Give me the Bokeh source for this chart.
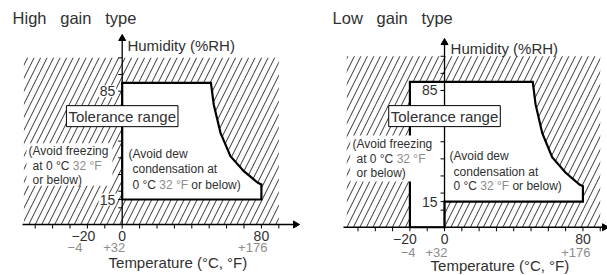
import math
from bokeh.plotting import figure
from bokeh.layouts import row
from bokeh.models import Range1d
from bokeh.core.properties import value
from bokeh.embed import file_html
from bokeh.resources import INLINE

FONT = "Liberation Sans"
DARK = "#303030"
GRAY = "#8c8c8c"

# ---------------- data ----------------
x_ticks = [-50, -40, -30, -20, -10, 0, 10, 20, 30, 40, 50, 60, 70, 80, 90]
y_ticks = [10, 15, 20, 30, 40, 50, 60, 70, 80, 90, 100]
hum_low = 15
hum_high = 85
temp_max = 80
temp_min_high = 0      # high gain type: lower temperature limit
temp_min_low = -20     # low gain type: lower temperature limit
# dew-condensation boundary (upper right edge of tolerance range)
curve_t = [51, 52.6, 56.5, 62.2, 69.9, 78.0, 80]
curve_h = [85, 72, 55, 41, 32, 25, 24]
# forbidden (hatched) zone
forb_t = [-56.5, 90]
forb_h = [0, 100]
titles = ["High\u00a0\u00a0\u00a0gain\u00a0\u00a0\u00a0type", "Low\u00a0\u00a0\u00a0gain\u00a0\u00a0\u00a0type"]


def make_panel(width, xr, yr, tmin, title, title_xy, hum_xy, freeze_box, freeze_xy,
               dew_xy, x_lab_off, arrow_x, arrow_y):
    p = figure(width=width, height=275, x_range=Range1d(*xr), y_range=Range1d(*yr),
               output_backend="svg", toolbar_location=None, min_border=0,
               outline_line_color=None)
    p.axis.visible = False
    p.grid.visible = False
    p.background_fill_color = "white"

    # hatched forbidden zone
    p.quad(left=[forb_t[0]], right=[forb_t[1]], bottom=[forb_h[0]], top=[forb_h[1]],
           fill_color="white", line_color=None, hatch_pattern="/", hatch_color="black",
           hatch_scale=13, hatch_weight=0.8)

    # tolerance range polygon
    if tmin == 0:
        xs = [tmin, tmin] + curve_t + [temp_max]
        ys = [hum_low, hum_high] + curve_h + [hum_low]
    else:
        xs = [tmin, tmin] + curve_t + [temp_max, 0, 0]
        ys = [0, hum_high] + curve_h + [hum_low, hum_low, 0]
    p.patch(xs + [xs[0]], ys + [ys[0]], fill_color="white", line_color="black",
            line_width=2.2, line_join="miter")

    # axes
    p.segment(x0=[arrow_x[0]], y0=[0], x1=[arrow_x[1]], y1=[0], line_color="black", line_width=1.3)
    p.segment(x0=[0], y0=[0], x1=[0], y1=[arrow_y], line_color="black", line_width=1.3)
    p.scatter(x=[arrow_x[1]], y=[0], marker="triangle", size=7, angle=-math.pi / 2,
              fill_color="black", line_color="black")
    p.scatter(x=[0], y=[arrow_y], marker="triangle", size=7, angle=0,
              fill_color="black", line_color="black")
    p.ray(x=x_ticks, y=[0] * len(x_ticks), length=4, length_units="screen",
          angle=-math.pi / 2, line_color="black", line_width=1)
    p.ray(x=[0] * len(y_ticks), y=y_ticks, length=4, length_units="screen",
          angle=math.pi, line_color="black", line_width=1)

    # freezing note background
    p.quad(left=[freeze_box[0]], right=[freeze_box[1]], bottom=[freeze_box[2]], top=[freeze_box[3]],
           fill_color="white", line_color=None)

    f = value(FONT)
    # title
    p.text(x=[title_xy[0]], y=[title_xy[1]], text=[title], text_font=f, text_font_size="16.5px",
           text_color=DARK, text_align="left", text_baseline="middle")
    # humidity label
    p.text(x=[hum_xy[0]], y=[hum_xy[1]], text=["Humidity (%RH)"], text_font=f,
           text_font_size="15px", text_color=DARK, text_align="left", text_baseline="middle")
    # y labels
    p.text(x=[0, 0], y=[80, 15], text=[str(hum_high), str(hum_low)], text_font=f,
           text_font_size="14px", text_color=DARK, text_align="right", text_baseline="middle",
           x_offset=-6, background_fill_color="white", padding=1)
    # tolerance range label
    p.text(x=[0], y=[65], text=["Tolerance range"], text_font=f, text_font_size="15px",
           text_color=DARK, text_align="center", text_baseline="middle",
           background_fill_color="white", border_line_color="black", border_line_width=1,
           padding=2)
    # freezing note
    fx, fy = freeze_xy
    p.text(x=[fx, fx, fx], y=fy, text=["(Avoid freezing", "at 0 °C", "or below)"],
           x_offset=[0, 4, 4], text_font=f, text_font_size="12px", text_color=DARK,
           text_align="left", text_baseline="middle")
    p.text(x=[fx], y=[fy[1]], text=["32 °F"], x_offset=44.2, text_font=f, text_font_size="12px",
           text_color=GRAY, text_align="left", text_baseline="middle")
    # dew note
    dx, dy = dew_xy
    p.text(x=[dx, dx, dx, dx], y=[dy[0], dy[1], dy[2], dy[2]],
           text=["(Avoid dew", "condensation at", "0 °C", "or below)"],
           x_offset=[0, 4, 4, 62.9], text_font=f, text_font_size="12px", text_color=DARK,
           text_align="left", text_baseline="middle")
    p.text(x=[dx], y=[dy[2]], text=["32 °F"], x_offset=30.8, text_font=f, text_font_size="12px",
           text_color=GRAY, text_align="left", text_baseline="middle")

    # x labels
    y1, y2, o = x_lab_off
    p.text(x=[-20, 0, 80], y=[y1] * 3, text=["−20", "0", "80"], x_offset=[o[0], 0, 0],
           text_font=f, text_font_size="14px", text_color=DARK, text_align="center",
           text_baseline="middle")
    p.text(x=[-20, 0, 80], y=[y2] * 3, text=["−4", "+32", "+176"], x_offset=o[1:4],
           text_font=f, text_font_size="13px", text_color=GRAY, text_align="right",
           text_baseline="middle")
    p.text(x=[32], y=[o[4]], text=["Temperature (°C, °F)"], text_font=f,
           text_font_size="15px", text_color=DARK, text_align="center", text_baseline="middle")
    return p


p1 = make_panel(300, (-69.94, 102.47), (-30.6, 134.4), temp_min_high, titles[0],
                (-63.0, 124.2), (3.0, 107.4), (-55.0, -5.6, 23.2, 48.8),
                (-53.8, [44.4, 35.4, 27.0]), (3.6, [42.4, 33.4, 24.0]),
                (-6.6, -13.6, [-4, -5, 3, 6, -22.8]), (-57.3, 99.6), 111.6)
p2 = make_panel(307, (-83.24, 94.2), (-28.2, 132.6), temp_min_low, titles[1],
                (-64.7, 122.6), (3.5, 104.5), (-54.5, -5.8, 26.7, 53.6),
                (-53.2, [48.9, 40.2, 31.6]), (2.9, [41.9, 32.2, 24.4]),
                (-6.6, -14.6, [-5, 5.6, 3, 7.6, -22.4]), (-58.4, 92.5), 108)

layout = row(p1, p2)
open("out.html", "w").write(file_html(layout, INLINE))
